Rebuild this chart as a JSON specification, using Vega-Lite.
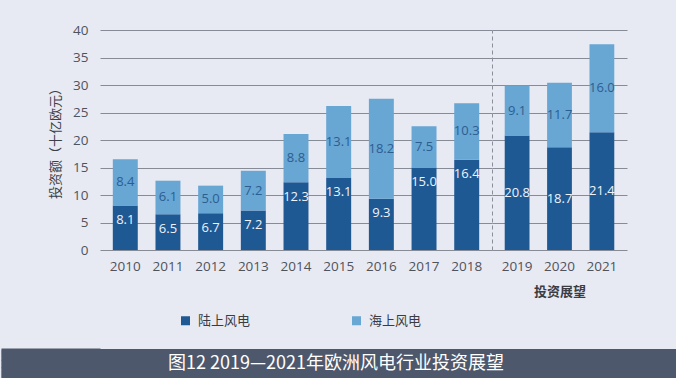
{
  "$schema": "https://vega.github.io/schema/vega-lite/v6.json",
  "background": "#e8eaf3",
  "padding": {"left": 0, "right": 0, "top": 23, "bottom": 0},
  "datasets": {
    "hist": [
      {"year": "2010", "type": "陆上风电", "value": 8.1},
      {"year": "2010", "type": "海上风电", "value": 8.4},
      {"year": "2011", "type": "陆上风电", "value": 6.5},
      {"year": "2011", "type": "海上风电", "value": 6.1},
      {"year": "2012", "type": "陆上风电", "value": 6.7},
      {"year": "2012", "type": "海上风电", "value": 5.0},
      {"year": "2013", "type": "陆上风电", "value": 7.2},
      {"year": "2013", "type": "海上风电", "value": 7.2},
      {"year": "2014", "type": "陆上风电", "value": 12.3},
      {"year": "2014", "type": "海上风电", "value": 8.8},
      {"year": "2015", "type": "陆上风电", "value": 13.1},
      {"year": "2015", "type": "海上风电", "value": 13.1},
      {"year": "2016", "type": "陆上风电", "value": 9.3},
      {"year": "2016", "type": "海上风电", "value": 18.2},
      {"year": "2017", "type": "陆上风电", "value": 15.0},
      {"year": "2017", "type": "海上风电", "value": 7.5},
      {"year": "2018", "type": "陆上风电", "value": 16.4},
      {"year": "2018", "type": "海上风电", "value": 10.3}
    ],
    "fore": [
      {"year": "2019", "type": "陆上风电", "value": 20.8},
      {"year": "2019", "type": "海上风电", "value": 9.1},
      {"year": "2020", "type": "陆上风电", "value": 18.7},
      {"year": "2020", "type": "海上风电", "value": 11.7},
      {"year": "2021", "type": "陆上风电", "value": 21.4},
      {"year": "2021", "type": "海上风电", "value": 16.0}
    ],
    "banner": [
      {"t": "图12 2019—2021年欧洲风电行业投资展望"}
    ]
  },
  "columns": 1,
  "spacing": 20,
  "concat": [
    {
      "spacing": 0,
      "resolve": {"scale": {"color": "independent"}, "legend": {"color": "independent"}},
      "hconcat": [
        {
          "width": 392,
          "height": 220,
          "data": {"name": "hist"},
          "encoding": {
            "x": {
              "field": "year", "type": "ordinal",
              "scale": {"paddingInner": 0.415, "paddingOuter": 0.3},
              "axis": {"title": null, "labelAngle": 0, "domain": false, "ticks": false, "labelPadding": 9, "labelFontSize": 13.5, "labelColor": "#4f535c", "labelFont": "Open Sans"}
            }
          },
          "layer": [
            {
              "mark": {"type": "bar"},
              "encoding": {
                "y": {
                  "field": "value", "type": "quantitative", "stack": "zero",
                  "scale": {"domain": [0, 40]},
                  "axis": {
                    "title": "投资额（十亿欧元）", "values": [0, 5, 10, 15, 20, 25, 30, 35, 40], "tickCount": 10,
                    "grid": true, "gridColor": "#868b96", "gridWidth": 1,
                    "domain": false, "ticks": false, "labelPadding": 12,
                    "labelFontSize": 13.5, "labelColor": "#4f535c", "labelFont": "Open Sans",
                    "titleFont": "Noto Sans CJK SC", "titleFontSize": 13, "titleFontWeight": "normal", "titleColor": "#3d4048",
                    "titlePadding": 10, "minExtent": 28, "maxExtent": 28
                  }
                },
                "color": {
                  "field": "type", "type": "nominal",
                  "scale": {"domain": ["陆上风电", "海上风电"], "range": ["#1f5994", "#68a6d4"]},
                  "legend": {
                    "title": null, "orient": "none", "direction": "horizontal",
                    "legendX": 79, "legendY": 284,
                    "symbolType": "square", "symbolSize": 81, "symbolStrokeWidth": 0, "symbolOpacity": 1,
                    "labelFont": "Noto Sans CJK SC", "labelFontSize": 13, "labelColor": "#3a3c42",
                    "labelOffset": 6, "columnPadding": 99, "padding": 0
                  }
                },
                "order": {"field": "type", "sort": "descending"}
              }
            },
            {
              "mark": {"type": "text", "font": "Open Sans", "fontSize": 13, "color": "#2c5e90", "baseline": "middle"},
              "encoding": {
                "y": {"field": "value", "type": "quantitative", "stack": "zero", "bandPosition": 0.5,
                  "axis": {
                    "title": "投资额（十亿欧元）", "values": [0, 5, 10, 15, 20, 25, 30, 35, 40], "tickCount": 10,
                    "grid": true, "gridColor": "#868b96", "gridWidth": 1,
                    "domain": false, "ticks": false, "labelPadding": 12,
                    "labelFontSize": 13.5, "labelColor": "#4f535c", "labelFont": "Open Sans",
                    "titleFont": "Noto Sans CJK SC", "titleFontSize": 13, "titleFontWeight": "normal", "titleColor": "#3d4048",
                    "titlePadding": 10, "minExtent": 28, "maxExtent": 28
                  }},
                "detail": {"field": "type"},
                "order": {"field": "type", "sort": "descending"},
                "text": {"field": "value", "type": "quantitative", "format": ".1f"},
                "opacity": {"condition": {"test": "datum.type === '陆上风电'", "value": 0}, "value": 1}
              }
            },
            {
              "transform": [{"filter": "datum.type === '陆上风电'"}],
              "mark": {"type": "text", "font": "Open Sans", "fontSize": 13, "color": "#eef3f9", "baseline": "middle", "dy": 14.5},
              "encoding": {
                "y": {"field": "value", "type": "quantitative",
                  "axis": {
                    "title": "投资额（十亿欧元）", "values": [0, 5, 10, 15, 20, 25, 30, 35, 40], "tickCount": 10,
                    "grid": true, "gridColor": "#868b96", "gridWidth": 1,
                    "domain": false, "ticks": false, "labelPadding": 12,
                    "labelFontSize": 13.5, "labelColor": "#4f535c", "labelFont": "Open Sans",
                    "titleFont": "Noto Sans CJK SC", "titleFontSize": 13, "titleFontWeight": "normal", "titleColor": "#3d4048",
                    "titlePadding": 10, "minExtent": 28, "maxExtent": 28
                  }},
                "text": {"field": "value", "type": "quantitative", "format": ".1f"}
              }
            }
          ]
        },
        {
          "width": 135,
          "height": 220,
          "data": {"name": "fore"},
          "encoding": {
            "x": {
              "field": "year", "type": "ordinal",
              "scale": {"paddingInner": 0.415, "paddingOuter": 0.3},
              "axis": {"title": "投资展望", "titleFont": "Noto Sans CJK SC", "titleFontSize": 13, "titleFontWeight": "bold", "titleColor": "#3a3c42", "titlePadding": 13,
                       "labelAngle": 0, "domain": false, "ticks": false, "labelPadding": 9, "labelFontSize": 13.5, "labelColor": "#4f535c", "labelFont": "Open Sans"}
            }
          },
          "layer": [
            {
              "mark": {"type": "bar"},
              "encoding": {
                "y": {
                  "field": "value", "type": "quantitative", "stack": "zero",
                  "scale": {"domain": [0, 40]},
                  "axis": {
                    "title": null, "values": [0, 5, 10, 15, 20, 25, 30, 35, 40], "tickCount": 10,
                    "grid": true, "gridColor": "#868b96", "gridWidth": 1,
                    "labels": false, "ticks": false,
                    "domain": true, "domainColor": "#8a8f9a", "domainDash": [4, 3], "domainWidth": 1,
                    "minExtent": 0, "maxExtent": 0
                  }
                },
                "color": {
                  "field": "type", "type": "nominal",
                  "scale": {"domain": ["陆上风电", "海上风电"], "range": ["#1f5994", "#68a6d4"]},
                  "legend": null
                },
                "order": {"field": "type", "sort": "descending"}
              }
            },
            {
              "mark": {"type": "text", "font": "Open Sans", "fontSize": 13, "baseline": "middle"},
              "encoding": {
                "y": {"field": "value", "type": "quantitative", "stack": "zero", "bandPosition": 0.5,
                  "axis": {
                    "title": null, "values": [0, 5, 10, 15, 20, 25, 30, 35, 40], "tickCount": 10,
                    "grid": true, "gridColor": "#868b96", "gridWidth": 1,
                    "labels": false, "ticks": false,
                    "domain": true, "domainColor": "#8a8f9a", "domainDash": [4, 3], "domainWidth": 1,
                    "minExtent": 0, "maxExtent": 0
                  }},
                "detail": {"field": "type"},
                "order": {"field": "type", "sort": "descending"},
                "text": {"field": "value", "type": "quantitative", "format": ".1f"},
                "color": {"condition": {"test": "datum.type === '陆上风电'", "value": "#eef3f9"}, "value": "#2c5e90"}
              }
            }
          ]
        }
      ]
    },
    {
      "width": 576,
      "height": 29,
      "data": {"name": "banner"},
      "view": {"fill": "#4e586c", "stroke": null},
      "mark": {"type": "text", "font": "Noto Sans CJK SC", "fontSize": 18, "color": "#ffffff", "baseline": "middle", "dx": -52},
      "encoding": {
        "text": {"field": "t"},
        "y": {"datum": 0.5, "type": "quantitative", "scale": {"domain": [0, 1]},
          "axis": {"values": [0, 0.04, 0.08, 0.12, 0.16, 0.2, 0.24, 0.28, 0.32, 0.36, 0.4, 0.44, 0.48, 0.52, 0.56, 0.6, 0.64, 0.68, 0.72, 0.76, 0.8, 0.84, 0.88, 0.92, 0.96, 1],
                   "tickCount": 40, "tickRound": false,
                   "orient": "left", "title": null, "labels": false, "domain": false, "grid": false,
                   "ticks": true, "tickSize": 99, "tickWidth": 2, "tickColor": "#4e586c", "tickCap": "butt",
                   "minExtent": 0, "maxExtent": 100}}
      }
    }
  ],
  "config": {
    "view": {"stroke": null}
  }
}
